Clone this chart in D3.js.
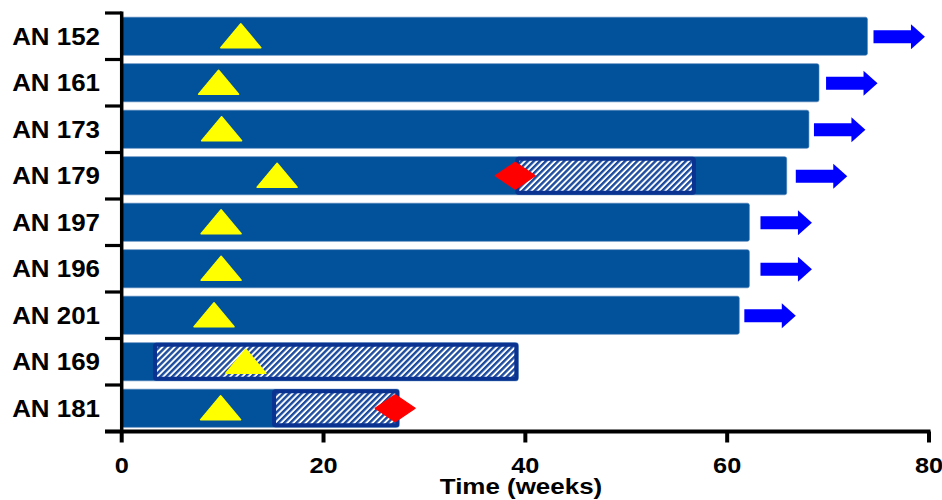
<!DOCTYPE html>
<html>
<head>
<meta charset="utf-8">
<script src="https://cdn.jsdelivr.net/npm/d3@7"></script>
<style>
  html, body { margin: 0; padding: 0; background: #fff; }
  svg { display: block; }
  text { font-family: "Liberation Sans", Arial, sans-serif; font-weight: bold; fill: #000; }
</style>
</head>
<body>
<svg id="chart" width="942" height="500"></svg>
<script>
// Subjects, top to bottom
const subjects = ["AN 152", "AN 161", "AN 173", "AN 179", "AN 197", "AN 196", "AN 201", "AN 169", "AN 181"];
// Total follow-up (weeks)
const followUp = [73.9, 69.1, 68.1, 65.9, 62.2, 62.2, 61.2, 39.3, 27.5];
// Follow-up still ongoing: arrow start and end (weeks); null = closed
const arrowStart = [74.5, 69.8, 68.6, 66.8, 63.3, 63.3, 61.7, null, null];
const arrowEnd = [79.6, 74.9, 73.7, 71.9, 68.4, 68.4, 66.8, null, null];
// Event marked by a yellow triangle (weeks)
const triangleAt = [11.8, 9.6, 9.9, 15.4, 9.85, 9.85, 9.15, 12.3, 9.8];
// Hatched interval (weeks)
const hatchStart = [null, null, null, 39.0, null, null, null, 3.1, 14.9];
const hatchEnd = [null, null, null, 56.9, null, null, null, 39.3, 27.5];
// Event marked by a red diamond (weeks)
const diamondAt = [null, null, null, 39.0, null, null, null, null, 27.1];
// X axis ticks
const xTicks = [0, 20, 40, 60, 80];
const xTitle = "Time (weeks)";

const rows = subjects.map((s, i) => ({
  id: s, end: followUp[i], a0: arrowStart[i], a1: arrowEnd[i], tri: triangleAt[i],
  h0: hatchStart[i], h1: hatchEnd[i], dia: diamondAt[i]
}));

const svg = d3.select("#chart");

const x = d3.scaleLinear().domain([0, 80]).range([121.7, 929]);
const y = d3.scaleBand().domain(subjects).range([13, 431.5])
  .paddingInner(0.18).paddingOuter(0.09);
const step = y.step();
const cy = d => y(d) + y.bandwidth() / 2;

const BAR = "#02529b";
const HATCH_EDGE = "#0a3391";

// Diagonal hatch fill
const defs = svg.append("defs");
const pat = defs.append("pattern")
  .attr("id", "hatch").attr("patternUnits", "userSpaceOnUse")
  .attr("width", 4.3).attr("height", 4.3)
  .attr("patternTransform", "rotate(45)");
pat.append("rect").attr("width", 4.3).attr("height", 4.3).attr("fill", "#ffffff");
pat.append("rect").attr("width", 2.4).attr("height", 4.3).attr("fill", "#1d4c9e");
defs.append("filter").attr("id", "soft")
  .append("feGaussianBlur").attr("stdDeviation", 0.4);

const g = svg.append("g");

// Main follow-up bars
g.selectAll("rect.bar").data(rows).join("rect")
  .attr("class", "bar")
  .attr("x", x(0))
  .attr("y", d => y(d.id))
  .attr("width", d => x(d.end) - x(0))
  .attr("height", y.bandwidth())
  .attr("rx", 2)
  .attr("fill", BAR)
  .attr("stroke", "#4f7fb8").attr("stroke-width", 0.6);

// Hatched intervals
const hatched = rows.filter(d => d.h0 != null);
g.selectAll("rect.hatch").data(hatched).join("rect")
  .attr("class", "hatch")
  .attr("x", d => x(d.h0) + 2)
  .attr("y", d => y(d.id) + 2)
  .attr("width", d => x(d.h1) - x(d.h0) - 4)
  .attr("height", y.bandwidth() - 4)
  .attr("fill", "url(#hatch)")
  .attr("filter", "url(#soft)");
g.selectAll("rect.hatchEdge").data(hatched).join("rect")
  .attr("class", "hatchEdge")
  .attr("x", d => x(d.h0) + 2)
  .attr("y", d => y(d.id) + 2)
  .attr("width", d => x(d.h1) - x(d.h0) - 4)
  .attr("height", y.bandwidth() - 4)
  .attr("rx", 1.5)
  .attr("fill", "none")
  .attr("stroke", HATCH_EDGE).attr("stroke-width", 4);

// Yellow triangles
const triW = 40, triH = 24;
g.selectAll("path.tri").data(rows).join("path")
  .attr("class", "tri")
  .attr("d", d => {
    const cx = x(d.tri), c = cy(d.id) - 0.5;
    return `M${cx},${c - triH / 2} L${cx + triW / 2},${c + triH / 2} L${cx - triW / 2},${c + triH / 2} Z`;
  })
  .attr("fill", "#ffff00").attr("stroke", "#ffff00")
  .attr("stroke-width", 1.5).attr("stroke-linejoin", "round");

// Red diamonds
const diaW = 40, diaH = 27;
g.selectAll("path.dia").data(rows.filter(d => d.dia != null)).join("path")
  .attr("class", "dia")
  .attr("d", d => {
    const cx = x(d.dia), c = cy(d.id);
    return `M${cx - diaW / 2},${c} L${cx},${c - diaH / 2} L${cx + diaW / 2},${c} L${cx},${c + diaH / 2} Z`;
  })
  .attr("fill", "#ff0000").attr("stroke", "#ff0000")
  .attr("stroke-width", 1.2).attr("stroke-linejoin", "round");

// Ongoing arrows
const shaftH = 13, headH = 25, headL = 14;
g.selectAll("path.arrow").data(rows.filter(d => d.a0 != null)).join("path")
  .attr("class", "arrow")
  .attr("d", d => {
    const x0 = x(d.a0), x1 = x(d.a1), xh = x1 - headL, c = cy(d.id) + 0.5;
    return `M${x0},${c - shaftH / 2} L${xh},${c - shaftH / 2} L${xh},${c - headH / 2} L${x1},${c} ` +
           `L${xh},${c + headH / 2} L${xh},${c + shaftH / 2} L${x0},${c + shaftH / 2} Z`;
  })
  .attr("fill", "#0000ff");

// Y axis: line with ticks at row boundaries, labels centred on rows
const axisY = 431.5;
const yAxis = svg.append("g");
yAxis.append("line")
  .attr("x1", x(0)).attr("x2", x(0))
  .attr("y1", y.range()[0] - 1.5).attr("y2", axisY)
  .attr("stroke", "#000").attr("stroke-width", 3.5);
yAxis.selectAll("line.ytick").data(d3.range(subjects.length + 1)).join("line")
  .attr("class", "ytick")
  .attr("x1", 105).attr("x2", x(0))
  .attr("y1", i => y.range()[0] + i * step)
  .attr("y2", i => y.range()[0] + i * step)
  .attr("stroke", "#000").attr("stroke-width", 3.2);
yAxis.selectAll("text").data(subjects).join("text")
  .attr("transform", d => `translate(100,${cy(d) + 8.5}) scale(1.08,1)`)
  .attr("text-anchor", "end")
  .attr("font-size", 24)
  .text(d => d);

// X axis
const xAxis = svg.append("g");
xAxis.append("line")
  .attr("x1", 105).attr("x2", x(80) + 1.5)
  .attr("y1", axisY).attr("y2", axisY)
  .attr("stroke", "#000").attr("stroke-width", 4);
xAxis.selectAll("line.xtick").data(xTicks).join("line")
  .attr("class", "xtick")
  .attr("x1", d => x(d)).attr("x2", d => x(d))
  .attr("y1", axisY).attr("y2", axisY + 11)
  .attr("stroke", "#000").attr("stroke-width", 4);
xAxis.selectAll("text").data(xTicks).join("text")
  .attr("transform", d => `translate(${x(d)},473) scale(1.15,1)`)
  .attr("text-anchor", "middle")
  .attr("font-size", 22)
  .text(d => d);
svg.append("text")
  .attr("transform", `translate(521,494) scale(1.18,1)`)
  .attr("text-anchor", "middle")
  .attr("font-size", 22)
  .text(xTitle);
</script>
</body>
</html>
